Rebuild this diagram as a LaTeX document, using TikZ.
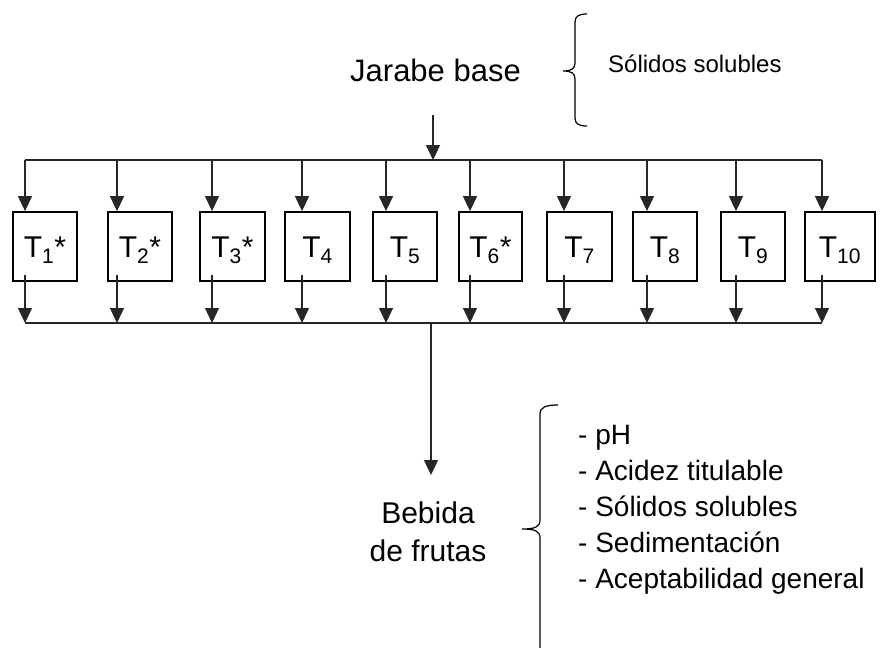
\documentclass[tikz,border=0pt]{standalone}
\usepackage{fontspec}
\setmainfont{Liberation Sans}
\usetikzlibrary{arrows.meta}
\begin{document}
\begin{tikzpicture}[x=1pt,y=-1pt,
  conn/.style={draw=black!85,line width=1.3pt},
  arr/.style={conn,-{Triangle[width=14pt,length=15pt]}},
  tbox/.style={draw=black,line width=1.8pt,minimum width=64pt,minimum height=69pt,
    inner sep=0pt,text height=22pt,text depth=0pt,font=\fontsize{30}{36}\selectfont},
  brace/.style={draw=black,line width=1.2pt},
  lbl/.style={inner sep=0pt,anchor=base west}]
\useasboundingbox (0,0) rectangle (887,648);
% title
\node[lbl,font=\fontsize{31}{36}\selectfont] (jb) at (350,81) {Jarabe base};
\node[lbl,font=\fontsize{24}{28}\selectfont] (ss) at (608,72) {Sólidos solubles};
\draw[brace] (587,14) .. controls (579,14) and (575,16) .. (575,22) -- (575,63)
  .. controls (575,69) and (571,71) .. (563,71) .. controls (571,71) and (575,73) .. (575,79)
  -- (575,118) .. controls (575,124) and (579,126) .. (587,126);
% top input arrow
\coordinate (jin) at (433,115);
\coordinate (jbus) at (433,160);
\draw[arr] (jin) -- (jbus);
% boxes
\foreach \i/\cx/\ax/\w/\lab in {1/45/25/64/T\textsubscript{1}*,2/140/117/64/T\textsubscript{2}*,
  3/232.5/212/65/T\textsubscript{3}*,4/317.5/302/65/T\textsubscript{4},5/405/386/64/T\textsubscript{5},
  6/490.5/470/63/T\textsubscript{6}*,7/579.5/564/65/T\textsubscript{7},8/665/647/64/T\textsubscript{8},
  9/753/736/64/T\textsubscript{9},10/840/822/70/T\textsubscript{10}}{
  \node[tbox,minimum width=\w pt] (t\i) at (\cx,246.5) {\lab};
  \coordinate (a\i) at (\ax,160);
  \coordinate (b\i) at (\ax,323);
  \draw[arr] (a\i) -- (a\i |- t\i.north);
  \draw[arr] ([yshift=7pt]b\i |- t\i.south) -- (b\i);
}
\draw[conn] (a1) -- (a10);
\draw[conn] (b1) -- (b10);
% output
\coordinate (obus) at (431,323);
\coordinate (oend) at (431,475);
\draw[arr] (obus) -- (oend);
\node[inner sep=0pt,anchor=base,font=\fontsize{30}{38}\selectfont,align=center] (bf) at (428,561) {Bebida\\de frutas};
\draw[brace] (558,405) .. controls (546,405) and (540,407) .. (540,414) -- (540,520)
  .. controls (540,527) and (535,529) .. (522,529) .. controls (535,529) and (540,531) .. (540,538)
  -- (540,652);
\node[lbl,font=\fontsize{28}{35.8}\selectfont,align=left] (lst) at (578,588)
  {- pH\\- Acidez titulable\\- Sólidos solubles\\- Sedimentación\\- Aceptabilidad general};
\end{tikzpicture}
\end{document}
